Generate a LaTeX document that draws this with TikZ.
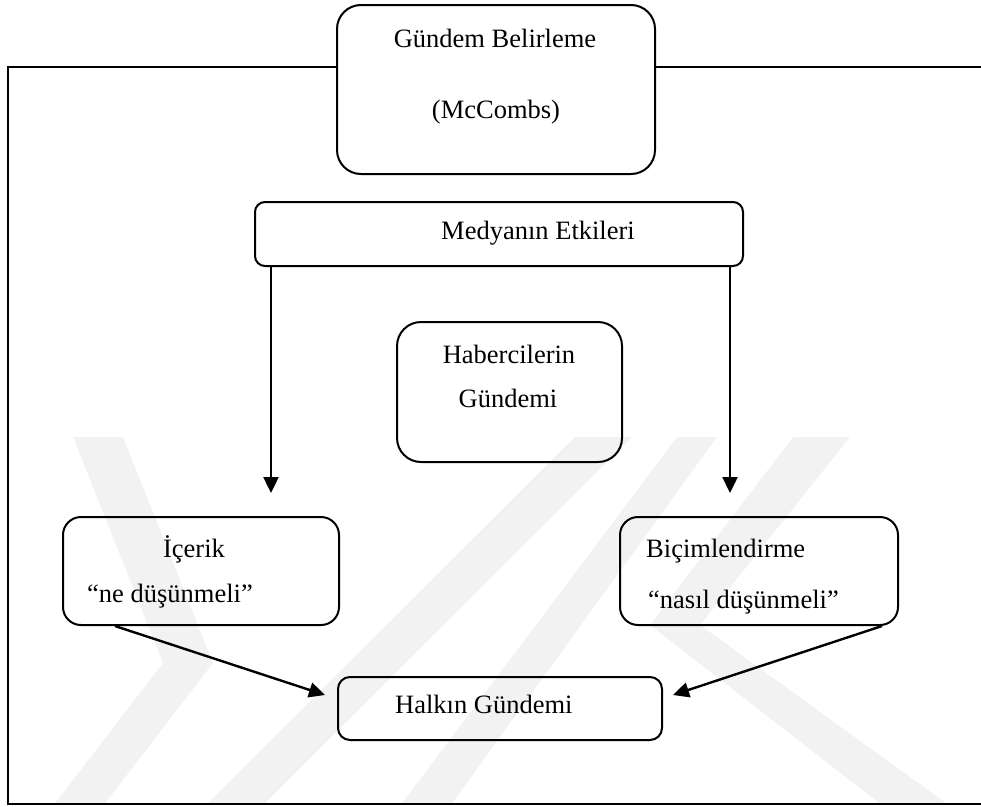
\documentclass[tikz,border=0pt]{standalone}
\usepackage{fontspec}
\setmainfont{Liberation Serif}
\usetikzlibrary{arrows.meta}
\begin{document}
\begin{tikzpicture}[x=1pt,y=-1pt,
  box/.style={draw, line width=2pt, inner sep=0pt},
  lbl/.style={inner sep=0pt, font=\fontsize{26.5}{30}\selectfont},
  arr/.style={line width=2.4pt, -{Triangle[length=16pt,width=15pt]}},
  wm/.style={fill=black!5, draw=none}]
\useasboundingbox (0,0) rectangle (981,806);
% watermark
\begin{scope}
\clip (9,437) rectangle (981,803);
\fill[wm] (73,437) -- (123,437) -- (213,663) -- (103,806) -- (53,806) -- (163,663) -- cycle;
\fill[wm] (205,806) -- (262,806) -- (632,437) -- (575,437) -- cycle;
\fill[wm] (793,437) -- (850,437) -- (700,625) -- (950,806) -- (883,806) -- (650,625) -- cycle;
\fill[wm] (400,806) -- (450,806) -- (717,437) -- (677,437) -- cycle;
\end{scope}
% frame
\draw[line width=2pt] (8,67) rectangle (1000,804);
% boxes
\node[box, fill=white, minimum width=318, minimum height=169, rounded corners=24] (gb) at (496,89.5) {};
\node[box, minimum width=488, minimum height=64, rounded corners=10] (me) at (499,234) {};
\node[box, minimum width=225, minimum height=140, rounded corners=24] (hg) at (509.5,392) {};
\node[box, minimum width=276, minimum height=108, rounded corners=18] (ic) at (201,571) {};
\node[box, minimum width=278, minimum height=108, rounded corners=18] (bi) at (759,571) {};
\node[box, minimum width=324, minimum height=63, rounded corners=12] (ha) at (500,708.5) {};
% texts
\node[lbl, anchor=base] (gbt1) at (495,47) {Gündem Belirleme};
\node[lbl, anchor=base] (gbt2) at (496,118) {(McCombs)};
\node[lbl, anchor=base] (met) at (538,239) {Medyanın Etkileri};
\node[lbl, anchor=base] (hgt1) at (509,363) {Habercilerin};
\node[lbl, anchor=base] (hgt2) at (508,407) {Gündemi};
\node[lbl, anchor=base] (ict1) at (194,557) {İçerik};
\node[lbl, anchor=base west] (ict2) at (87,602) {“ne düşünmeli”};
\node[lbl, anchor=base west] (bit1) at (646,557) {Biçimlendirme};
\node[lbl, anchor=base west] (bit2) at (648,608) {“nasıl düşünmeli”};
\node[lbl, anchor=base west] (hat) at (395,713) {Halkın Gündemi};
% connectors
\coordinate (s1) at (271,0);
\coordinate (e1) at (271,493);
\coordinate (s2) at (730,0);
\coordinate (e2) at (730,493);
\coordinate (s3) at (115,0);
\coordinate (e3) at (325,695);
\coordinate (s4) at (882,0);
\coordinate (e4) at (673,695);
\draw[arr] (me.south -| s1) -- (e1);
\draw[arr] (me.south -| s2) -- (e2);
\draw[arr] (ic.south -| s3) -- (e3);
\draw[arr] (bi.south -| s4) -- (e4);
\end{tikzpicture}
\end{document}
